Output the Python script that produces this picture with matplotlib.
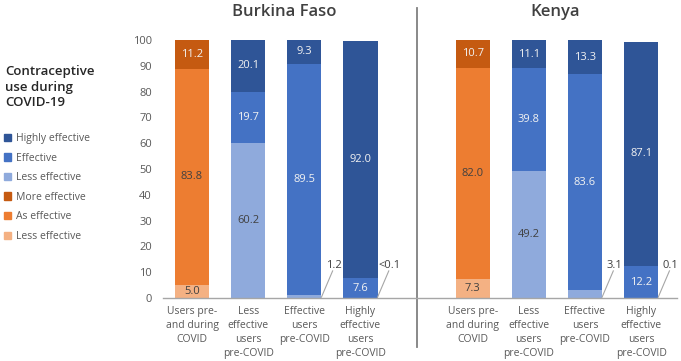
import matplotlib
matplotlib.use("Agg")
import matplotlib.pyplot as plt
from matplotlib.patches import Patch
import numpy as np

plt.rcParams['font.family'] = ['Open Sans', 'DejaVu Sans']

countries = ["Burkina Faso", "Kenya"]
categories = ["Users pre-\nand during\nCOVID", "Less\neffective\nusers\npre-COVID",
              "Effective\nusers\npre-COVID", "Highly\neffective\nusers\npre-COVID"]

# Burkina Faso
bf_users = {"Less effective (o)": 5.0, "As effective": 83.8, "More effective": 11.2}
bf_less = [60.2, 19.7, 20.1]      # less, effective, highly
bf_eff = [1.2, 89.5, 9.3]
bf_high = [0.05, 7.6, 92.0]
# Kenya
ke_users = {"Less effective (o)": 7.3, "As effective": 82.0, "More effective": 10.7}
ke_less = [49.2, 39.8, 11.1]
ke_eff = [3.1, 83.6, 13.3]
ke_high = [0.1, 12.2, 87.1]

small_labels = {(0, 2): "1.2", (0, 3): "<0.1", (1, 2): "3.1", (1, 3): "0.1"}

legend_labels = ["Highly effective", "Effective", "Less effective",
                 "More effective", "As effective", "Less effective"]

c_high = "#2F5597"
c_eff = "#4472C4"
c_lessb = "#8FAADC"
c_more = "#C55A11"
c_as = "#ED7D31"
c_lesso = "#F4B183"
light_txt = "#F2F2F2"
dark_txt = "#404040"

fig = plt.figure(figsize=(6.81, 3.61), dpi=100)
ax = fig.add_axes([163/681, 1-298/361, (677-163)/681, 258/361])

width = 0.61
positions = [[0, 1, 2, 3], [5, 6, 7, 8]]
data = [(bf_users, bf_less, bf_eff, bf_high), (ke_users, ke_less, ke_eff, ke_high)]

for ci, (users, less, eff, high) in enumerate(data):
    pos = positions[ci]
    # users bar (orange)
    vals = [users["Less effective (o)"], users["As effective"], users["More effective"]]
    cols = [c_lesso, c_as, c_more]
    tcols = [dark_txt, dark_txt, light_txt]
    bottom = 0
    for v, c, tc in zip(vals, cols, tcols):
        ax.bar(pos[0], v, width, bottom=bottom, color=c, linewidth=0)
        ax.text(pos[0], bottom + v/2, f"{v:.1f}", ha="center", va="center",
                fontsize=8, color=tc)
        bottom += v
    # blue bars
    for bi, arr in enumerate([less, eff, high]):
        p = pos[bi+1]
        cols = [c_lessb, c_eff, c_high]
        tcols = [dark_txt, light_txt, light_txt]
        bottom = 0
        for si, (v, c, tc) in enumerate(zip(arr, cols, tcols)):
            ax.bar(p, v, width, bottom=bottom, color=c, linewidth=0)
            if si == 0 and (ci, bi+1) in small_labels:
                x0 = p + width/2
                ax.plot([x0, x0 + 0.2], [0.3, 10.5], color="#A6A6A6", lw=0.8)
                ax.text(x0 + 0.22, 12.5, small_labels[(ci, bi+1)], ha="center",
                        va="center", fontsize=8, color=dark_txt)
            else:
                ax.text(p, bottom + v/2, f"{v:.1f}", ha="center", va="center",
                        fontsize=8, color=tc)
            bottom += v

ax.set_xlim(-0.517, 8.64)
ax.set_ylim(0, 100)
ax.set_yticks(np.arange(0, 101, 10))
ax.tick_params(axis="y", length=0, pad=8, labelsize=8, labelcolor="#595959")
ax.set_xticks(positions[0] + positions[1])
ax.set_xticklabels(categories * 2, fontsize=7.5, color="#595959", linespacing=1.36)
ax.tick_params(axis="x", length=0, pad=6)
for s in ["top", "right", "left"]:
    ax.spines[s].set_visible(False)
ax.spines["bottom"].set_color("#A6A6A6")
ax.spines["bottom"].set_linewidth(1)

# divider
ax.plot([4, 4], [(298-347)/2.58, (298-8)/2.58], color="#808080", lw=1.3, clip_on=False)

# country titles
fig.text(284/681, 1-12/361, countries[0], ha="center", va="center", fontsize=12,
         fontweight="semibold", color="#404040")
fig.text(555/681, 1-12/361, countries[1], ha="center", va="center", fontsize=12,
         fontweight="semibold", color="#404040")

# legend
fig.text(5/681, 1-87/361, "Contraceptive\nuse during\nCOVID-19", ha="left", va="center",
         fontsize=9.5, fontweight="semibold", color="#262626", linespacing=1.25)
handles = [Patch(color=c) for c in [c_high, c_eff, c_lessb, c_more, c_as, c_lesso]]
leg = fig.legend(handles, legend_labels, loc="upper left",
                 bbox_to_anchor=(0/681, 1-129/361), frameon=False, fontsize=7.5,
                 handlelength=0.7, handleheight=0.7, handletextpad=0.4,
                 labelspacing=0.82, borderaxespad=0)
for t in leg.get_texts():
    t.set_color("#595959")

fig.savefig("out.png", dpi=100)
